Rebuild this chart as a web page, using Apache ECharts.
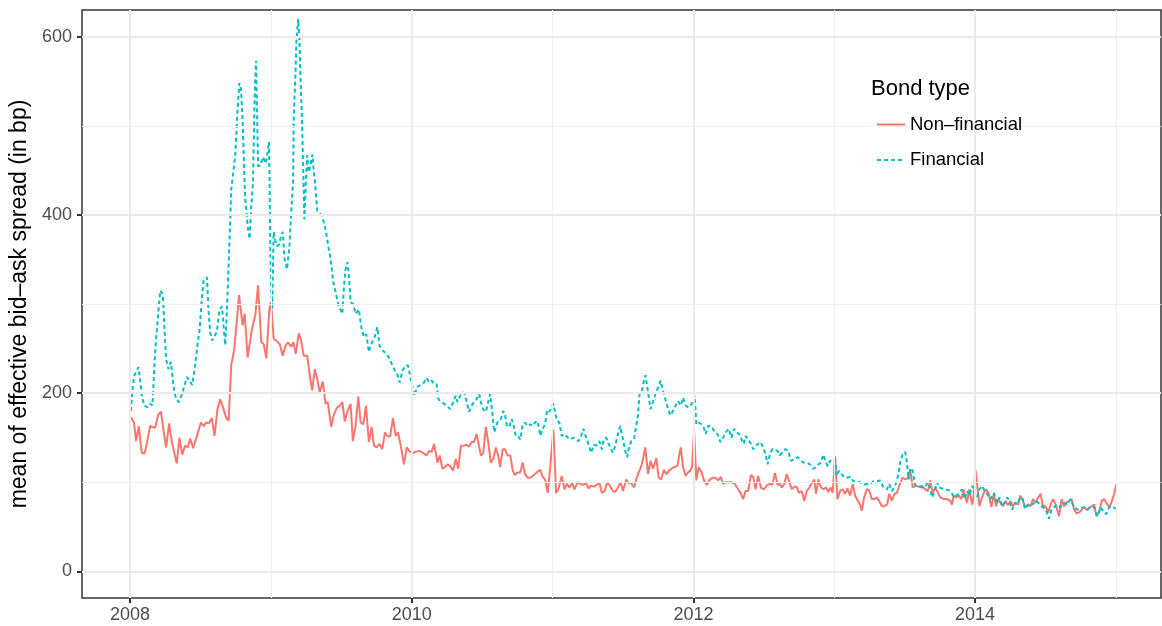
<!DOCTYPE html>
<html>
<head>
<meta charset="utf-8">
<script src="https://cdn.jsdelivr.net/npm/echarts@6/dist/echarts.min.js"></script>
<style>html,body{margin:0;padding:0;background:#fff}#c{width:1162px;height:626px}</style>
</head>
<body>
<div id="c"></div>
<script>
// tick values
const xMajor = [2008, 2010, 2012, 2014];
const xMinor = [2009, 2011, 2013, 2015];
const yMajor = [0, 200, 400, 600];
const yMinor = [100, 300, 500];
const seriesNames = ['Non–financial', 'Financial'];

// Non-financial: time in years since start of 2008, mean spread (bp)
const nfT = [0.007,0.028,0.043,0.062,0.083,0.102,0.119,0.142,0.178,0.201,0.219,0.256,0.278,0.297,0.332,0.351,0.370,0.391,0.411,0.427,0.448,0.475,0.503,0.522,0.541,0.560,0.581,0.600,0.621,0.641,0.664,0.683,0.700,0.719,0.740,0.774,0.799,0.814,0.835,0.866,0.890,0.909,0.932,0.949,0.968,0.989,1.001,1.020,1.044,1.063,1.084,1.103,1.122,1.144,1.158,1.177,1.198,1.214,1.233,1.258,1.276,1.293,1.312,1.329,1.347,1.369,1.388,1.404,1.428,1.447,1.471,1.490,1.507,1.525,1.542,1.566,1.582,1.601,1.621,1.637,1.656,1.675,1.696,1.715,1.732,1.751,1.772,1.791,1.810,1.827,1.846,1.867,1.886,1.902,1.922,1.945,1.964,1.988,2.012,2.028,2.052,2.069,2.088,2.105,2.123,2.142,2.159,2.183,2.199,2.218,2.237,2.254,2.273,2.294,2.313,2.330,2.349,2.368,2.389,2.408,2.425,2.443,2.460,2.475,2.491,2.507,2.527,2.543,2.562,2.579,2.598,2.614,2.628,2.646,2.662,2.681,2.700,2.717,2.733,2.752,2.771,2.788,2.804,2.823,2.842,2.859,2.875,2.895,2.911,2.930,2.947,2.966,2.984,3.006,3.025,3.041,3.065,3.084,3.101,3.120,3.139,3.155,3.179,3.198,3.219,3.238,3.255,3.274,3.293,3.315,3.333,3.350,3.369,3.388,3.407,3.428,3.445,3.464,3.483,3.500,3.523,3.540,3.559,3.578,3.594,3.611,3.630,3.642,3.658,3.678,3.696,3.713,3.737,3.753,3.772,3.791,3.808,3.827,3.843,3.863,3.886,3.910,3.927,3.945,3.962,3.979,3.991,4.005,4.021,4.038,4.057,4.080,4.097,4.116,4.140,4.157,4.176,4.194,4.211,4.230,4.251,4.270,4.294,4.318,4.335,4.354,4.370,4.389,4.408,4.425,4.441,4.460,4.479,4.500,4.520,4.543,4.560,4.579,4.598,4.614,4.626,4.646,4.662,4.678,4.698,4.717,4.733,4.749,4.769,4.788,4.804,4.823,4.845,4.859,4.870,4.888,4.906,4.923,4.942,4.959,4.975,4.989,5.006,5.023,5.041,5.060,5.077,5.094,5.112,5.132,5.148,5.167,5.184,5.196,5.212,5.231,5.248,5.267,5.286,5.302,5.319,5.338,5.357,5.376,5.390,5.409,5.428,5.445,5.461,5.485,5.504,5.523,5.540,5.557,5.575,5.599,5.623,5.646,5.665,5.682,5.699,5.718,5.737,5.753,5.777,5.801,5.824,5.836,5.848,5.865,5.884,5.903,5.919,5.927,5.943,5.959,5.979,5.991,6.002,6.014,6.031,6.045,6.062,6.078,6.097,6.116,6.133,6.149,6.164,6.180,6.197,6.216,6.233,6.251,6.268,6.287,6.306,6.322,6.339,6.358,6.377,6.394,6.411,6.429,6.448,6.465,6.482,6.500,6.520,6.536,6.553,6.572,6.596,6.614,6.631,6.648,6.667,6.685,6.702,6.719,6.738,6.757,6.774,6.790,6.809,6.828,6.845,6.861,6.880,6.899,6.916,6.932,6.952,6.963,6.975,6.987,7.004];
const nfV = [173,167,146,163,133,132,143,163,161,176,179,139,166,145,121,150,131,141,139,149,138,152,167,163,167,166,172,152,182,193,182,172,169,232,249,310,276,289,240,272,288,321,257,255,239,294,302,261,258,255,242,253,257,252,257,244,267,260,242,242,220,203,227,216,201,213,188,190,162,176,184,186,190,168,179,188,146,163,196,167,165,186,145,162,141,139,143,137,156,152,151,172,152,156,141,120,139,134,133,134,135,134,132,130,135,134,143,122,130,115,117,120,118,113,126,115,141,141,142,140,145,145,154,143,130,132,162,145,122,126,139,130,117,137,137,130,130,113,108,111,111,122,109,105,105,107,109,112,114,106,103,88,118,159,88,92,107,92,98,94,99,92,100,98,97,99,93,96,95,97,99,88,90,100,96,90,89,94,100,90,103,99,99,94,103,111,118,126,139,109,124,115,127,105,103,114,109,113,115,117,118,139,117,107,111,113,118,158,102,117,111,100,97,103,105,105,102,106,98,100,100,100,98,92,88,81,90,90,108,106,92,107,94,92,96,98,97,110,97,98,94,98,109,102,92,95,95,88,90,79,90,94,100,103,87,103,94,92,94,89,94,88,129,81,90,92,87,93,85,98,85,79,75,68,83,92,91,81,81,83,79,73,73,75,87,79,87,88,96,105,103,105,113,94,96,95,96,92,90,102,88,94,88,83,81,81,79,75,85,83,85,81,92,85,77,92,75,85,114,98,73,81,88,92,87,72,87,73,81,77,73,79,74,79,73,77,75,85,79,72,75,73,81,77,83,87,73,73,66,75,81,75,62,81,73,77,79,81,70,65,66,69,72,69,71,73,75,62,66,79,81,77,72,75,81,87,98];

// Financial: time in years since start of 2008, mean spread (bp)
const fT = [0.007,0.016,0.028,0.048,0.059,0.071,0.083,0.102,0.123,0.142,0.159,0.173,0.185,0.201,0.214,0.233,0.244,0.256,0.273,0.290,0.308,0.327,0.347,0.368,0.386,0.404,0.422,0.441,0.456,0.475,0.493,0.510,0.522,0.546,0.557,0.569,0.584,0.600,0.617,0.636,0.653,0.664,0.676,0.688,0.700,0.719,0.747,0.764,0.776,0.788,0.799,0.814,0.818,0.838,0.849,0.861,0.873,0.883,0.890,0.895,0.902,0.909,0.925,0.944,0.963,0.977,0.987,0.991,0.996,1.001,1.009,1.020,1.032,1.044,1.060,1.073,1.084,1.098,1.115,1.132,1.144,1.158,1.162,1.174,1.181,1.194,1.203,1.210,1.222,1.233,1.238,1.249,1.258,1.269,1.281,1.295,1.305,1.313,1.329,1.345,1.364,1.388,1.411,1.423,1.443,1.466,1.483,1.507,1.518,1.530,1.544,1.557,1.566,1.585,1.601,1.614,1.625,1.642,1.661,1.678,1.696,1.713,1.737,1.756,1.772,1.799,1.822,1.843,1.863,1.881,1.898,1.915,1.934,1.957,1.974,1.993,2.009,2.021,2.036,2.052,2.069,2.088,2.105,2.123,2.142,2.159,2.176,2.190,2.211,2.230,2.247,2.273,2.294,2.313,2.325,2.344,2.361,2.377,2.396,2.408,2.425,2.443,2.460,2.479,2.491,2.507,2.527,2.543,2.557,2.567,2.574,2.586,2.598,2.614,2.633,2.650,2.662,2.676,2.692,2.710,2.724,2.740,2.757,2.771,2.788,2.804,2.823,2.842,2.859,2.875,2.890,2.902,2.913,2.930,2.947,2.961,2.977,2.989,3.006,3.018,3.032,3.048,3.065,3.084,3.108,3.127,3.148,3.167,3.184,3.203,3.219,3.238,3.258,3.274,3.293,3.310,3.333,3.350,3.364,3.381,3.404,3.428,3.445,3.464,3.480,3.500,3.516,3.530,3.540,3.559,3.578,3.594,3.606,3.618,3.635,3.649,3.660,3.678,3.696,3.713,3.730,3.749,3.767,3.784,3.801,3.820,3.838,3.855,3.874,3.891,3.910,3.927,3.945,3.962,3.981,3.998,4.009,4.021,4.038,4.057,4.073,4.087,4.104,4.128,4.152,4.171,4.192,4.211,4.230,4.251,4.270,4.290,4.306,4.325,4.342,4.358,4.370,4.389,4.408,4.425,4.441,4.460,4.477,4.496,4.512,4.527,4.543,4.560,4.579,4.598,4.614,4.626,4.650,4.674,4.692,4.717,4.740,4.764,4.781,4.804,4.828,4.852,4.868,4.888,4.904,4.923,4.940,4.954,4.970,4.989,5.006,5.018,5.034,5.053,5.073,5.094,5.112,5.137,5.160,5.184,5.208,5.231,5.255,5.279,5.302,5.326,5.350,5.374,5.390,5.409,5.433,5.452,5.468,5.485,5.504,5.516,5.528,5.540,5.557,5.571,5.587,5.604,5.623,5.646,5.665,5.682,5.694,5.713,5.729,5.746,5.765,5.789,5.813,5.831,5.848,5.865,5.884,5.907,5.927,5.943,5.959,5.979,5.998,6.014,6.031,6.050,6.069,6.085,6.109,6.133,6.157,6.173,6.192,6.211,6.228,6.244,6.263,6.282,6.299,6.315,6.335,6.354,6.370,6.394,6.411,6.429,6.448,6.477,6.500,6.524,6.543,6.560,6.584,6.607,6.631,6.655,6.678,6.702,6.726,6.749,6.774,6.797,6.821,6.845,6.868,6.892,6.916,6.932,6.952,6.975,6.999];
const fV = [180,201,219,225,229,216,197,186,184,188,186,231,261,291,315,311,274,238,227,235,208,193,190,198,208,218,214,209,224,249,270,306,326,330,294,268,259,264,269,294,297,276,254,294,343,429,467,519,548,541,508,433,418,384,373,410,437,519,556,573,515,455,455,465,458,471,482,433,365,328,294,381,371,365,367,377,381,350,339,365,403,437,508,556,594,620,598,556,500,430,395,440,467,448,455,468,448,437,405,402,399,384,362,351,325,309,297,289,317,339,347,325,302,300,289,287,294,274,263,266,246,255,263,274,253,247,244,238,231,225,221,212,225,231,231,216,204,197,207,208,210,212,217,212,214,210,210,193,190,188,186,182,190,197,190,197,201,199,186,179,186,190,193,199,190,182,179,190,199,201,175,156,162,169,171,180,176,163,162,171,163,151,151,148,165,167,163,165,163,167,169,162,152,160,165,181,179,182,188,178,169,167,152,154,150,148,150,148,146,152,160,150,141,133,142,141,146,137,148,150,141,133,141,154,163,148,135,128,137,146,148,163,175,199,203,214,220,201,182,190,199,206,214,203,193,182,175,180,186,191,186,195,186,184,186,191,197,165,167,165,162,154,163,163,156,154,145,150,156,160,150,160,156,154,148,143,152,148,143,137,141,143,145,139,131,120,131,137,137,135,130,131,137,135,124,126,128,124,122,122,120,115,117,120,122,131,122,118,124,124,126,107,113,109,105,105,106,101,101,100,97,98,98,101,101,102,94,92,98,90,96,107,122,131,134,122,103,116,113,98,95,95,94,95,100,92,83,90,100,94,93,92,91,89,83,85,87,92,81,90,85,96,87,83,92,96,90,87,81,88,77,83,73,77,83,79,69,77,75,81,83,70,73,77,75,79,77,72,70,59,69,72,75,72,77,75,81,72,69,71,72,69,73,72,62,72,66,64,72,73,70];

const nfData = nfT.map((t, i) => [2008 + t, nfV[i]]);
const fData = fT.map((t, i) => [2008 + t, fV[i]]);

const majorStyle = { color: '#ebebeb', width: 2, type: 'solid' };
const minorStyle = { color: '#f0f0f0', width: 1, type: 'solid' };
const gridMarks = [].concat(
  xMinor.map(v => ({ xAxis: v, lineStyle: minorStyle })),
  yMinor.map(v => ({ yAxis: v, lineStyle: minorStyle })),
  xMajor.map(v => ({ xAxis: v, lineStyle: majorStyle })),
  yMajor.map(v => ({ yAxis: v, lineStyle: majorStyle }))
);

const FONT = '"Liberation Sans", Arial, Helvetica, sans-serif';
const chart = echarts.init(document.getElementById('c'), null, { renderer: 'canvas' });
chart.setOption({
  animation: false,
  backgroundColor: '#ffffff',
  textStyle: { fontFamily: FONT },
  title: {
    text: 'Bond type', left: 871, top: 78, padding: 0, z: 10,
    textStyle: { fontSize: 22, fontWeight: 'normal', color: '#000', fontFamily: FONT }
  },
  legend: {
    data: seriesNames, orient: 'vertical', left: 876, top: 115, padding: 0,
    itemWidth: 28, itemHeight: 19, itemGap: 16.5, z: 10,
    itemStyle: { opacity: 0 },
    textStyle: { fontSize: 18.5, color: '#000', fontFamily: FONT }
  },
  graphic: [{
    type: 'rect', left: 860, top: 67, z: 5,
    shape: { width: 175, height: 111 }, style: { fill: '#ffffff' }, silent: true
  }],
  grid: { left: 82, right: 1, top: 10, bottom: 28, show: true, borderColor: '#333333', borderWidth: 1.5, backgroundColor: 'rgba(0,0,0,0)' },
  xAxis: {
    type: 'value', min: 2007.659, max: 2015.32,
    splitLine: { show: false },
    axisLine: { show: false, onZero: false },
    axisTick: { show: true, customValues: xMajor, length: 5, lineStyle: { color: '#333333', width: 2 } },
    axisLabel: { customValues: xMajor, margin: 8, fontSize: 18, color: '#4d4d4d', fontFamily: FONT, formatter: v => String(v) }
  },
  yAxis: {
    type: 'value', min: -30, max: 630,
    name: 'mean of effective bid–ask spread (in bp)', nameLocation: 'middle', nameGap: 47,
    nameTextStyle: { fontSize: 23, color: '#000', fontFamily: FONT },
    splitLine: { show: false },
    axisLine: { show: false, onZero: false },
    axisTick: { show: true, customValues: yMajor, length: 5, lineStyle: { color: '#333333', width: 2 } },
    axisLabel: { customValues: yMajor, margin: 10, fontSize: 18, color: '#4d4d4d', fontFamily: FONT, formatter: v => String(v) }
  },
  series: [
    {
      name: 'gridlines', type: 'line', data: [], z: 1, silent: true,
      markLine: { silent: true, symbol: ['none', 'none'], label: { show: false }, animation: false, data: gridMarks }
    },
    {
      name: seriesNames[0], type: 'line', data: nfData, showSymbol: false, symbol: 'none', z: 2,
      lineStyle: { color: '#F8766D', width: 2 }, itemStyle: { color: '#F8766D' }
    },
    {
      name: seriesNames[1], type: 'line', data: fData, showSymbol: false, symbol: 'none', z: 3,
      lineStyle: { color: '#00BFC4', width: 2, type: [4, 3] }, itemStyle: { color: '#00BFC4' }
    }
  ]
});
</script>
</body>
</html>
